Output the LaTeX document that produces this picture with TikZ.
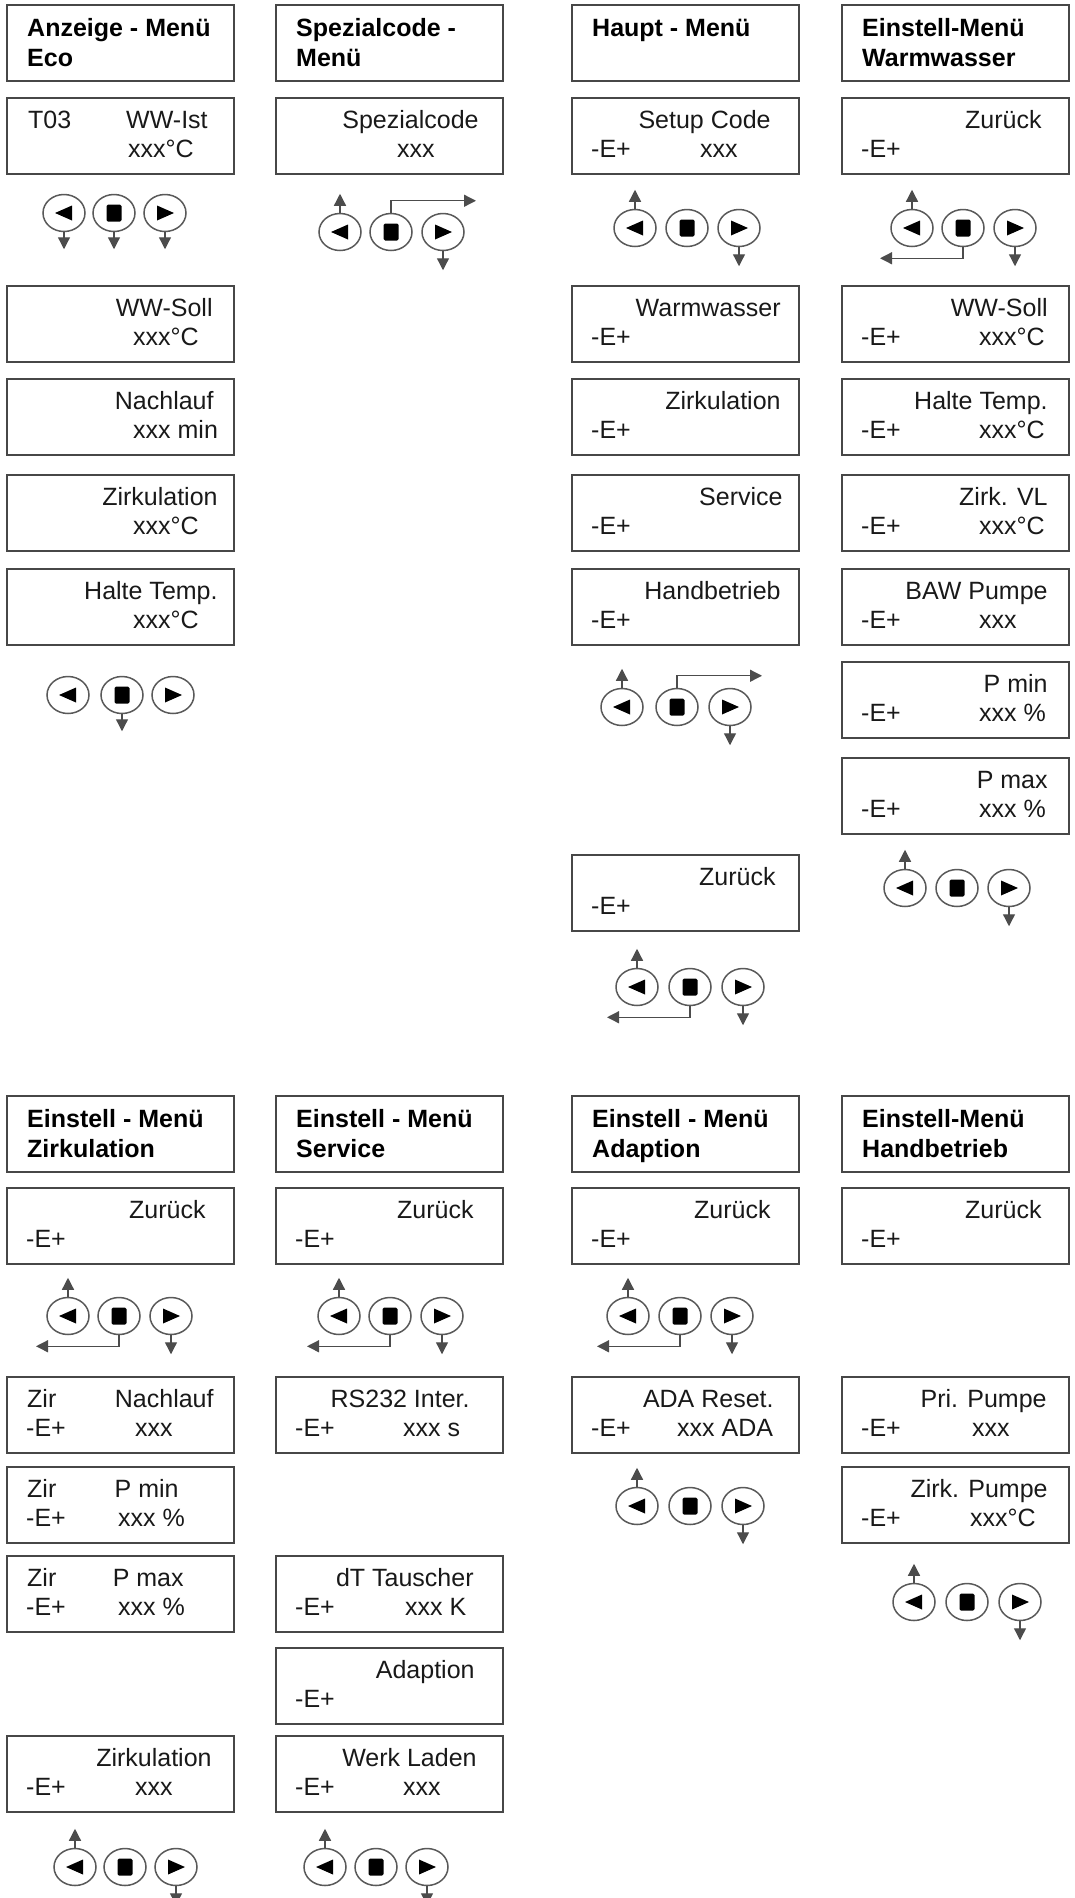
\documentclass[tikz,border=0pt]{standalone}
\usepackage{fontspec}
\setmainfont{Liberation Sans}
\usetikzlibrary{shapes.geometric,arrows.meta}
\tikzset{
 box/.style={draw=black!72, line width=1.8pt, minimum width=227pt, minimum height=76pt, inner sep=0pt, anchor=north west},
 txt/.style={font=\fontsize{25}{30}\selectfont, text=black!90, inner sep=0pt},
 htxt/.style={font=\bfseries\fontsize{25}{30}\selectfont, text=black, inner sep=0pt, anchor=base west},
 btn/.style={ellipse, draw=black!65, line width=1.5pt, minimum width=42pt, minimum height=37pt, inner sep=0pt},
 btnL/.style={btn, path picture={\fill[black,shift={(path picture bounding box.center)}] (-9pt,0pt) -- (8pt,7.5pt) -- (8pt,-7.5pt) -- cycle;}},
 btnR/.style={btn, path picture={\fill[black,shift={(path picture bounding box.center)}] (9pt,0pt) -- (-8pt,7.5pt) -- (-8pt,-7.5pt) -- cycle;}},
 btnM/.style={btn, path picture={\fill[black,rounded corners=1.5pt,shift={(path picture bounding box.center)}] (-7.5pt,-8.5pt) rectangle (7.5pt,8.5pt);}},
 arr/.style={draw=black!70, line width=1.3pt, -{Triangle[width=12pt,length=12pt]}},
}
\newcommand\Bx[3]{\node[box] (#1) at (#2,#3) {};}
\newcommand\Head[5]{\node[box] (#1) at (#2,#3) {};
 \node[htxt] (#1a) at ([xshift=21pt,yshift=-32pt]#1.north west) {#4};
 \node[htxt] (#1b) at ([xshift=21pt,yshift=-62pt]#1.north west) {#5};}
\newcommand\Rone[4]{\node[txt,anchor=base east] (#1) at ([xshift=-#3pt,yshift=-31pt]#2.north east) {#4};}
\newcommand\Lone[4]{\node[txt,anchor=base west] (#1) at ([xshift=#3pt,yshift=-31pt]#2.north west) {#4};}
\newcommand\Ltwo[4]{\node[txt,anchor=base west] (#1) at ([xshift=#3pt,yshift=-60pt]#2.north west) {#4};}
\newcommand\Etwo[2]{\node[txt,anchor=base west] (#1) at ([xshift=20pt,yshift=-60pt]#2.north west) {-E+};}
\newcommand\Btns[5]{\node[btnL] (#1l) at (#2,#5) {};
 \node[btnM] (#1m) at (#3,#5) {};
 \node[btnR] (#1r) at (#4,#5) {};}
\newcommand\UpL[1]{\draw[arr] (#1l.north) -- ++(0,-19);}
\newcommand\DnR[1]{\draw[arr] (#1r.south) -- ++(0,19);}
\newcommand\MidR[1]{\draw[arr] (#1m.north) -- ++(0,-12) -- ++(85,0);}
\newcommand\MidL[1]{\draw[arr] (#1m.south) -- ++(0,11) -- ++(-83,0);}
\begin{document}
\begin{tikzpicture}[x=1pt,y=-1pt]
\useasboundingbox (0,0) rectangle (1074,1898);
% ---------------- top section ----------------
\Head{hA}{6}{4}{Anzeige - Menü}{Eco}
\Head{hB}{275}{4}{Spezialcode -}{Menü}
\Head{hC}{571}{4}{Haupt - Menü}{}
\Head{hD}{841}{4}{Einstell-Menü}{Warmwasser}
% column A
\Bx{a1}{6}{97} \Lone{a1p}{a1}{22}{T03} \Lone{a1q}{a1}{120}{WW-Ist} \Ltwo{a1v}{a1}{122}{xxx°C}
\Btns{g1}{64}{114}{165}{213}
\draw[arr] (g1l.south) -- ++(0,17);
\draw[arr] (g1m.south) -- ++(0,17);
\draw[arr] (g1r.south) -- ++(0,17);
\Bx{a2}{6}{285} \Rone{a2t}{a2}{22}{WW-Soll} \Ltwo{a2v}{a2}{127}{xxx°C}
\Bx{a3}{6}{378} \Rone{a3t}{a3}{21}{Nachlauf} \Ltwo{a3v}{a3}{127}{xxx min}
\Bx{a4}{6}{474} \Rone{a4t}{a4}{17}{Zirkulation} \Ltwo{a4v}{a4}{127}{xxx°C}
\Bx{a5}{6}{568} \Rone{a5t}{a5}{17}{Halte Temp.} \Ltwo{a5v}{a5}{127}{xxx°C}
\Btns{g5}{68}{122}{173}{695}
\draw[arr] (g5m.south) -- ++(0,17);
% column B
\Bx{b1}{275}{97} \Rone{b1t}{b1}{25}{Spezialcode} \Ltwo{b1v}{b1}{122}{xxx}
\Btns{g2}{340}{391}{443}{232}
\UpL{g2} \MidR{g2} \DnR{g2}
% column C
\Bx{c1}{571}{97} \Rone{c1t}{c1}{29}{Setup Code} \Etwo{c1e}{c1} \Ltwo{c1v}{c1}{129}{xxx}
\Btns{g3}{635}{687}{739}{228}
\UpL{g3} \DnR{g3}
\Bx{c2}{571}{285} \Rone{c2t}{c2}{19}{Warmwasser} \Etwo{c2e}{c2}
\Bx{c3}{571}{378} \Rone{c3t}{c3}{19}{Zirkulation} \Etwo{c3e}{c3}
\Bx{c4}{571}{474} \Rone{c4t}{c4}{17}{Service} \Etwo{c4e}{c4}
\Bx{c5}{571}{568} \Rone{c5t}{c5}{19}{Handbetrieb} \Etwo{c5e}{c5}
\Btns{g6}{622}{677}{730}{707}
\UpL{g6} \MidR{g6} \DnR{g6}
\Bx{c6}{571}{854} \Rone{c6t}{c6}{24}{Zurück} \Etwo{c6e}{c6}
\Btns{g7}{637}{690}{743}{987}
\UpL{g7} \MidL{g7} \DnR{g7}
% column D
\Bx{d1}{841}{97} \Rone{d1t}{d1}{28}{Zurück} \Etwo{d1e}{d1}
\Btns{g4}{912}{963}{1015}{228}
\UpL{g4} \MidL{g4} \DnR{g4}
\Bx{d2}{841}{285} \Rone{d2t}{d2}{22}{WW-Soll} \Etwo{d2e}{d2} \Ltwo{d2v}{d2}{138}{xxx°C}
\Bx{d3}{841}{378} \Rone{d3t}{d3}{22}{Halte Temp.} \Etwo{d3e}{d3} \Ltwo{d3v}{d3}{138}{xxx°C}
\Bx{d4}{841}{474} \Rone{d4t}{d4}{22}{Zirk. VL} \Etwo{d4e}{d4} \Ltwo{d4v}{d4}{138}{xxx°C}
\Bx{d5}{841}{568} \Rone{d5t}{d5}{22}{BAW Pumpe} \Etwo{d5e}{d5} \Ltwo{d5v}{d5}{138}{xxx}
\Bx{d6}{841}{661} \Rone{d6t}{d6}{22}{P min} \Etwo{d6e}{d6} \Ltwo{d6v}{d6}{138}{xxx \%}
\Bx{d7}{841}{757} \Rone{d7t}{d7}{22}{P max} \Etwo{d7e}{d7} \Ltwo{d7v}{d7}{138}{xxx \%}
\Btns{g8}{905}{957}{1009}{888}
\UpL{g8} \DnR{g8}
% ---------------- bottom section ----------------
\Head{hE}{6}{1095}{Einstell - Menü}{Zirkulation}
\Head{hF}{275}{1095}{Einstell - Menü}{Service}
\Head{hG}{571}{1095}{Einstell - Menü}{Adaption}
\Head{hH}{841}{1095}{Einstell-Menü}{Handbetrieb}
% column E
\Bx{e1}{6}{1187} \Rone{e1t}{e1}{29}{Zurück} \Etwo{e1e}{e1}
\Btns{g9}{68}{119}{171}{1316}
\UpL{g9} \MidL{g9} \DnR{g9}
\Bx{e2}{6}{1376} \Lone{e2z}{e2}{21}{Zir} \Rone{e2t}{e2}{21}{Nachlauf} \Etwo{e2e}{e2} \Ltwo{e2v}{e2}{129}{xxx}
\Bx{e3}{6}{1466} \Lone{e3z}{e3}{21}{Zir} \Rone{e3t}{e3}{56}{P min} \Etwo{e3e}{e3} \Ltwo{e3v}{e3}{112}{xxx \%}
\Bx{e4}{6}{1555} \Lone{e4z}{e4}{21}{Zir} \Rone{e4t}{e4}{51}{P max} \Etwo{e4e}{e4} \Ltwo{e4v}{e4}{112}{xxx \%}
\Bx{e5}{6}{1735} \Rone{e5t}{e5}{23}{Zirkulation} \Etwo{e5e}{e5} \Ltwo{e5v}{e5}{129}{xxx}
\Btns{g14}{75}{125}{176}{1867}
\UpL{g14} \DnR{g14}
% column F
\Bx{f1}{275}{1187} \Rone{f1t}{f1}{30}{Zurück} \Etwo{f1e}{f1}
\Btns{g10}{339}{390}{442}{1316}
\UpL{g10} \MidL{g10} \DnR{g10}
\Bx{f2}{275}{1376} \Rone{f2t}{f2}{34}{RS232 Inter.} \Etwo{f2e}{f2} \Ltwo{f2v}{f2}{128}{xxx s}
\Bx{f3}{275}{1555} \Rone{f3t}{f3}{30}{dT Tauscher} \Etwo{f3e}{f3} \Ltwo{f3v}{f3}{130}{xxx K}
\Bx{f4}{275}{1647} \Rone{f4t}{f4}{29}{Adaption} \Etwo{f4e}{f4}
\Bx{f5}{275}{1735} \Rone{f5t}{f5}{27}{Werk Laden} \Etwo{f5e}{f5} \Ltwo{f5v}{f5}{128}{xxx}
\Btns{g15}{325}{376}{427}{1867}
\UpL{g15} \DnR{g15}
% column G
\Bx{g1b}{571}{1187} \Rone{g1t}{g1b}{29}{Zurück} \Etwo{g1e}{g1b}
\Btns{g11}{628}{680}{732}{1316}
\UpL{g11} \MidL{g11} \DnR{g11}
\Bx{g2b}{571}{1376} \Rone{g2t}{g2b}{26}{ADA Reset.} \Etwo{g2e}{g2b} \Ltwo{g2v}{g2b}{106}{xxx ADA}
\Btns{g12}{637}{690}{743}{1506}
\UpL{g12} \DnR{g12}
% column H
\Bx{h1}{841}{1187} \Rone{h1t}{h1}{28}{Zurück} \Etwo{h1e}{h1}
\Bx{h2}{841}{1376} \Rone{h2t}{h2}{23}{Pri. Pumpe} \Etwo{h2e}{h2} \Ltwo{h2v}{h2}{131}{xxx}
\Bx{h3}{841}{1466} \Rone{h3t}{h3}{22}{Zirk. Pumpe} \Etwo{h3e}{h3} \Ltwo{h3v}{h3}{129}{xxx°C}
\Btns{g13}{914}{967}{1020}{1602}
\UpL{g13} \DnR{g13}
\end{tikzpicture}
\end{document}
